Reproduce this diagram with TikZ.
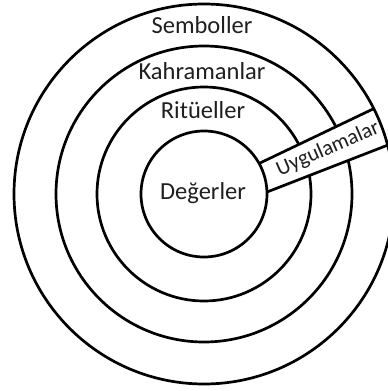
\documentclass[tikz,border=0pt]{standalone}
\usepackage{fontspec}
\setmainfont{Carlito}
\begin{document}
\begin{tikzpicture}[x=1pt,y=-1pt,
  ring/.style={draw=black, line width=2.7pt, circle, inner sep=0pt, outer sep=0pt},
  lbl/.style={anchor=base, inner sep=0pt, font=\fontsize{24.5}{28}\selectfont, text=black!88},
  bandline/.style={draw=black, line width=2.7pt}]
\useasboundingbox (0,0) rectangle (388,391);
\coordinate (c) at (204,194);
% middle rings
\node[ring, minimum size=296pt] (kahr) at (c) {};
\node[ring, minimum size=214pt] (rit) at (c) {};
% band
\coordinate (p1) at (237.4,173.8);
\coordinate (p2) at (384.3,103.6);
\coordinate (q1) at (242.8,201.4);
\coordinate (q2) at (400.1,140.3);
\begin{scope}
  \clip (c) circle (190pt);
  \fill[white] (p1) -- (p2) -- (q2) -- (q1) -- cycle;
  \draw[bandline] (p1) -- (p2);
  \draw[bandline] (q1) -- (q2);
\end{scope}
% inner and outer rings
\node[ring, fill=white, minimum size=126pt] (inner) at (c) {};
\node[ring, minimum size=380pt] (outer) at (c) {};
% labels
\node[lbl] (semb) at (202,33) {Semboller};
\node[lbl] (kahrl) at (202,79) {Kahramanlar};
\node[lbl] (ritl) at (203,118) {Ritüeller};
\node[lbl] (degl) at (203,199) {Değerler};
\node[inner sep=0pt, rotate=23.5, font=\fontsize{21.5}{25}\selectfont, text=black!88] (uyg) at (328,149) {Uygulamalar};
\end{tikzpicture}
\end{document}
